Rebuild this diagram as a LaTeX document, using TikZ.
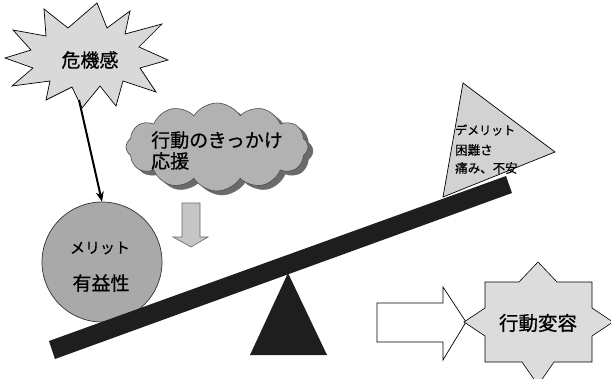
\documentclass[tikz,border=0pt]{standalone}
\usepackage{fontspec}
\newfontfamily\jp{Noto Sans CJK JP}[FakeBold=0.6]
\usetikzlibrary{shapes.symbols,arrows.meta}
\definecolor{burstfill}{HTML}{D9D9D9}
\definecolor{cloudfill}{HTML}{B2B2B2}
\definecolor{cloudshadow}{HTML}{6A6A6A}
\definecolor{circfill}{HTML}{A9A9A9}
\definecolor{trifill}{HTML}{D2D2D2}
\definecolor{starfill}{HTML}{DCDCDC}
\definecolor{arrfill}{HTML}{C6C6C6}
\definecolor{plankfill}{HTML}{1E1E1E}
\tikzset{
  outl/.style={draw=black, line width=0.7pt, line join=miter},
  lbl/.style={font=\jp, inner sep=0pt, anchor=west},
  clbl/.style={font=\jp, inner sep=0pt},
}
\begin{document}
\begin{tikzpicture}[x=1pt,y=-1pt]
\useasboundingbox (0,0) rectangle (611,378);

% starburst 危機感
\path[outl, fill=burstfill]
 (97,3) -- (107,28) -- (130,11) -- (125,34) -- (162,24) -- (139,47) -- (168,60)
 -- (140,68) -- (156,92) -- (123,81) -- (116,106) -- (100,86) -- (82,108)
 -- (72,87) -- (46,100) -- (50,81) -- (12,86) -- (33,68) -- (5,58)
 -- (31,50) -- (13,30) -- (46,36) -- (44,9) -- (68,28) -- cycle;
\node[clbl, font=\jp\fontsize{19}{21}\selectfont] (kiki) at (90,60) {危機感};
\coordinate (burstbot) at (79,100);

% merit circle
\node[circle, outl, draw=black!80, fill=circfill, minimum size=120pt, inner sep=0pt] (merit) at (102,262) {};
\node[clbl, font=\jp\fontsize{15}{17}\selectfont] (merit1) at (100,248) {メリット};
\node[clbl, font=\jp\fontsize{19}{21}\selectfont] (merit2) at (101,283) {有益性};
\draw[line width=2pt, -{Stealth[length=10pt,width=8pt]}] (burstbot) -- (merit.north);

% cloud with shadow
\node[cloud, cloud puffs=12, cloud puff arc=115, aspect=2.1, fill=cloudshadow, draw=cloudshadow,
      minimum width=182pt, minimum height=88pt, inner sep=0pt] (cloudsh) at (222,151) {};
\node[cloud, cloud puffs=12, cloud puff arc=115, aspect=2.1, fill=cloudfill, draw=black!70, line width=0.6pt,
      minimum width=182pt, minimum height=88pt, inner sep=0pt] (cloud) at (217,147) {};
\node[lbl, font=\jp\fontsize{19}{21}\selectfont] (cloud1) at (151,140) {行動のきっかけ};
\node[lbl, font=\jp\fontsize{19}{21}\selectfont] (cloud2) at (151,161) {応援};

% down arrow
\path[draw=black!60, line width=0.6pt, fill=arrfill]
 (182,203) -- (200,203) -- (200,237) -- (208,237) -- (191,247) -- (173,237) -- (182,237) -- cycle;

% demerit triangle
\path[outl, fill=trifill] (463,83) -- (555,152) -- (443,197) -- cycle;
\node[lbl, font=\jp\fontsize{12}{14}\selectfont] (dem1) at (455,130) {デメリット};
\node[lbl, font=\jp\fontsize{12.5}{14}\selectfont] (dem2) at (455,150) {困難さ};
\node[lbl, font=\jp\fontsize{12.5}{14}\selectfont] (dem3) at (455,168) {痛み、不安};

% plank and fulcrum
\path[fill=plankfill] (49,341) -- (506,176) -- (512,193) -- (55,359) -- cycle;
\path[fill=plankfill] (288,273) -- (327,355) -- (250,355) -- cycle;

% outline arrow
\path[draw=black, line width=0.7pt, fill=white]
 (377,303) -- (443,303) -- (443,287) -- (466,322) -- (443,360) -- (443,342) -- (377,342) -- cycle;

% 8-point star
\path[outl, line width=0.6pt, fill=starfill]
 (538,262) -- (557,282) -- (592,282) -- (592,308) -- (613,322) -- (592,336) -- (592,362)
 -- (554,362) -- (538,385) -- (522,362) -- (485,362) -- (485,336) -- (464,322)
 -- (485,308) -- (485,282) -- (519,282) -- cycle;
\node[clbl, font=\jp\fontsize{19.5}{21}\selectfont] (change) at (538,323) {行動変容};
\end{tikzpicture}
\end{document}
